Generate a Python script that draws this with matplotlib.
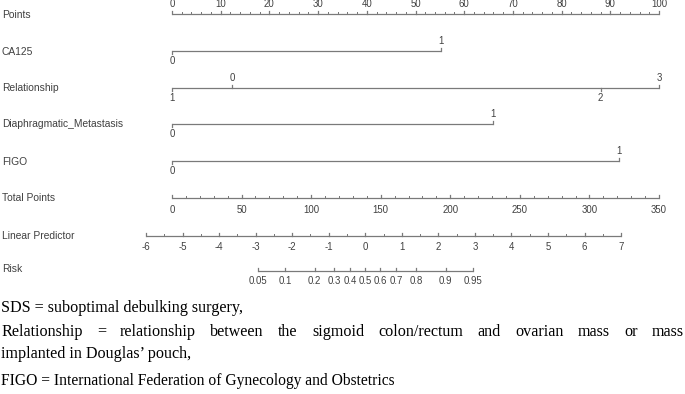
import numpy as np
import matplotlib
matplotlib.use("Agg")
import matplotlib.pyplot as plt

# ---------------- data ----------------
points_ticks = list(range(0, 101, 10))
points_minor = list(range(0, 101, 2))

ca125_levels = ["0", "1"]
ca125_points = [0.0, 55.2]

relationship_levels = ["1", "0", "2", "3"]
relationship_points = [0.0, 12.3, 88.0, 100.0]

diaph_levels = ["0", "1"]
diaph_points = [0.0, 65.9]

figo_levels = ["0", "1"]
figo_points = [0.0, 91.8]

total_ticks = list(range(0, 351, 50))
total_minor = list(range(0, 351, 10))

lp_ticks = list(range(-6, 8))
lp_minor = list(np.arange(-6, 7.01, 0.5))
lp_at_zero_points = -5.288     # linear predictor when total points = 0
lp_per_total_point = 0.038067  # slope

risk_ticks = [0.05, 0.1, 0.2, 0.3, 0.4, 0.5, 0.6, 0.7, 0.8, 0.9, 0.95]
risk_labels = ["0.05", "0.1", "0.2", "0.3", "0.4", "0.5", "0.6", "0.7", "0.8", "0.9", "0.95"]

footer_lines = [
    "SDS = suboptimal debulking surgery,",
    "Relationship = relationship between the sigmoid colon/rectum and ovarian mass or mass",
    "implanted in Douglas\u2019 pouch,",
    "FIGO = International Federation of Gynecology and Obstetrics",
]

# ---------------- layout ----------------
W, H = 685, 394
DPI = 100
fig = plt.figure(figsize=(W / DPI, H / DPI), dpi=DPI)
ax = fig.add_axes([0, 0, 1, 1])
px0, px100 = 172.0, 659.0
scale = (px100 - px0) / 100.0
ax.set_xlim(-px0 / scale, (W - px0) / scale)
ax.set_ylim(H, 0)
ax.axis("off")

LINE_C = "#7a7a7a"
TEXT_C = "#404040"
LAB_FS = 7.4
TICK_FS = 6.9
LW = 0.9
FONT = "Liberation Sans"


def tp_to_pts(tp):
    return np.asarray(tp, dtype=float) * 100.0 / 350.0


def lp_to_pts(lp):
    tp = (np.asarray(lp, dtype=float) - lp_at_zero_points) / lp_per_total_point
    return tp_to_pts(tp)


def risk_to_pts(r):
    r = np.asarray(r, dtype=float)
    return lp_to_pts(np.log(r / (1 - r)))


def row_label(y, text):
    ax.text(-px0 / scale + 2 / scale, y, text, fontsize=LAB_FS, color=TEXT_C,
            family=FONT, va="center", ha="left")


def scale_axis(y, major_x, labels, minor_x=None, label_side="below", off=11):
    ax.plot([min(major_x), max(major_x)], [y, y], color=LINE_C, lw=LW,
            solid_capstyle="butt")
    if minor_x is not None:
        for m in minor_x:
            ax.plot([m, m], [y, y - 1.6], color=LINE_C, lw=LW * 0.8)
    for xm, lab in zip(major_x, labels):
        ax.plot([xm, xm], [y, y - 2.8], color=LINE_C, lw=LW)
        ty = y + off if label_side == "below" else y - off
        ax.text(xm, ty, lab, fontsize=TICK_FS, color=TEXT_C, family=FONT,
                ha="center", va="center")


def variable_axis(y, pts, levels, sides):
    ax.plot([min(pts), max(pts)], [y, y], color=LINE_C, lw=LW,
            solid_capstyle="butt")
    for p, lab, s in zip(pts, levels, sides):
        if s == "above":
            ax.plot([p, p], [y, y - 2.8], color=LINE_C, lw=LW)
            ax.text(p, y - 10, lab, fontsize=TICK_FS, color=TEXT_C,
                    family=FONT, ha="center", va="center")
        else:
            ax.plot([p, p], [y, y + 2.8], color=LINE_C, lw=LW)
            ax.text(p, y + 10, lab, fontsize=TICK_FS, color=TEXT_C,
                    family=FONT, ha="center", va="center")


# Points
y_pts = 14
row_label(y_pts + 1, "Points")
scale_axis(y_pts, points_ticks, [str(t) for t in points_ticks],
           minor_x=points_minor, label_side="above", off=10)

# CA125
y = 51
row_label(y + 1, "CA125")
variable_axis(y, ca125_points, ca125_levels, ["below", "above"])

# Relationship
y = 88
row_label(y, "Relationship")
variable_axis(y, relationship_points, relationship_levels,
              ["below", "above", "below", "above"])

# Diaphragmatic
y = 124
row_label(y, "Diaphragmatic_Metastasis")
variable_axis(y, diaph_points, diaph_levels, ["below", "above"])

# FIGO
y = 161
row_label(y + 0.5, "FIGO")
variable_axis(y, figo_points, figo_levels, ["below", "above"])

# Total points
y = 198
row_label(y, "Total Points")
scale_axis(y, tp_to_pts(total_ticks), [str(t) for t in total_ticks],
           minor_x=tp_to_pts(total_minor), label_side="below", off=12)

# Linear predictor
y = 235.5
row_label(y, "Linear Predictor")
scale_axis(y, lp_to_pts(lp_ticks), [str(t) for t in lp_ticks],
           minor_x=lp_to_pts(lp_minor), label_side="below", off=11)

# Risk
y = 270.5
row_label(y - 1, "Risk")
scale_axis(y, risk_to_pts(risk_ticks), risk_labels, label_side="below", off=11)

# ---------------- footer ----------------
SERIF = "Liberation Serif"
FS = 11.6
footer_sizes = [11.6, 11.6, 11.6, 11.2]
baselines = [311.5, 335.5, 357.5, 385.0]


def fx(px):
    return px / W


def fy(py):
    return 1 - py / H


for i, line in enumerate(footer_lines):
    if i == 1:
        continue
    fig.text(fx(1), fy(baselines[i]), line, fontsize=footer_sizes[i],
             family=SERIF, color="black", ha="left", va="baseline")

# justified line
words = footer_lines[1].split(" ")
objs = [fig.text(0, fy(baselines[1]), w, fontsize=footer_sizes[1],
                 family=SERIF, color="black", ha="left", va="baseline")
        for w in words]
fig.canvas.draw()
renderer = fig.canvas.get_renderer()
widths = [o.get_window_extent(renderer).width for o in objs]
left, right = 1.0, 684.0
gap = (right - left - sum(widths)) / (len(words) - 1)
xcur = left
for o, wd in zip(objs, widths):
    o.set_x(fx(xcur))
    xcur += wd + gap

fig.savefig("out.png", dpi=DPI)
